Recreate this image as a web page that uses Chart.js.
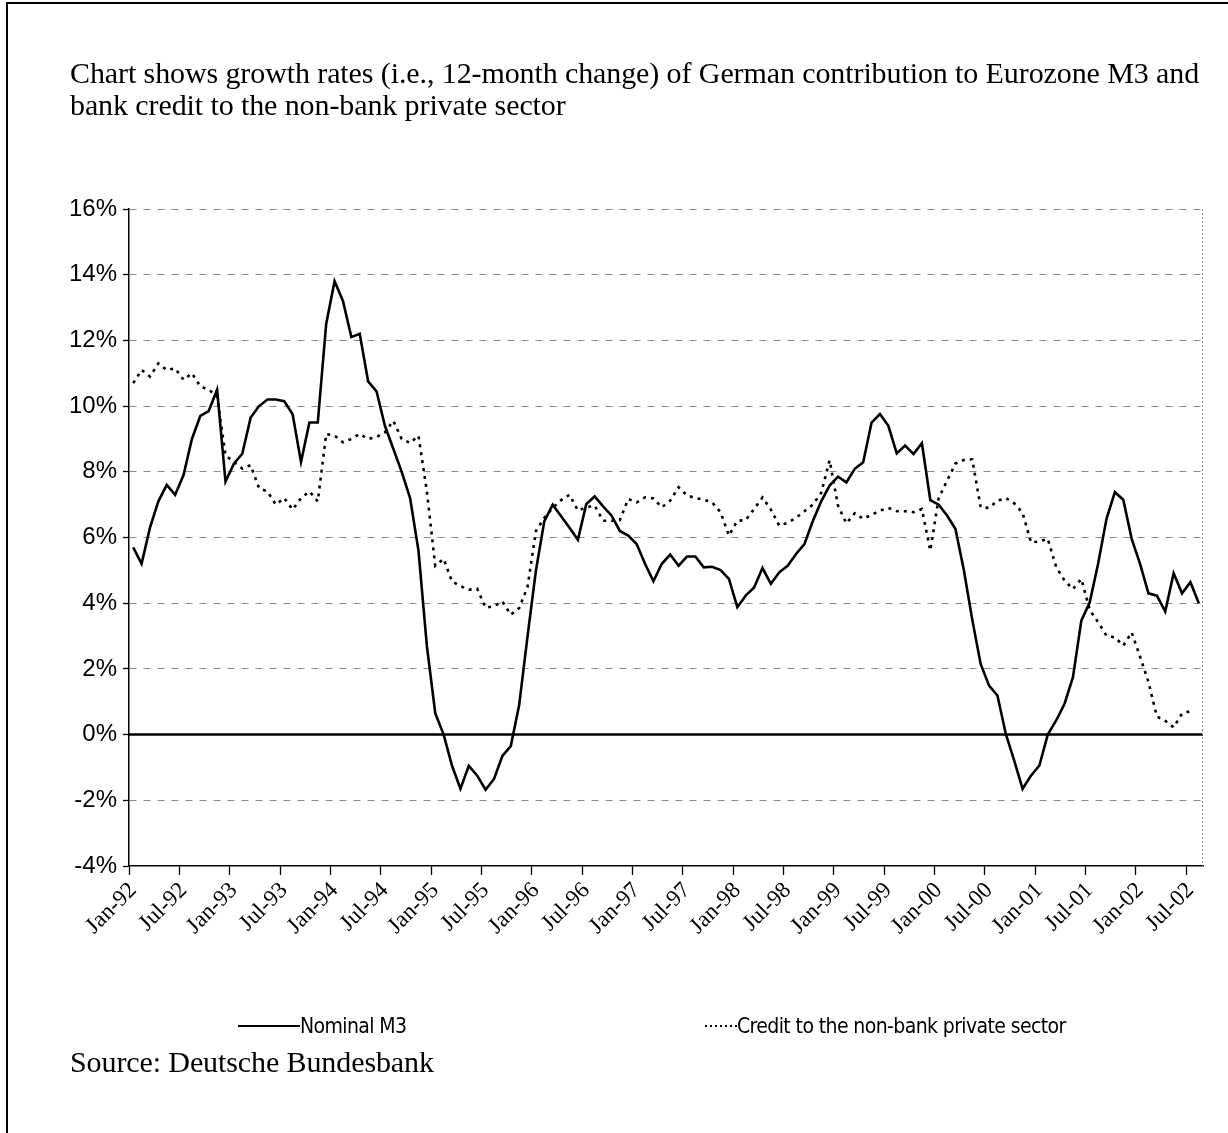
<!DOCTYPE html>
<html>
<head>
<meta charset="utf-8">
<title>German M3 and bank credit growth</title>
<script src="https://cdn.jsdelivr.net/npm/chart.js@4.4.1/dist/chart.umd.min.js"></script>
<style>
    html, body { margin: 0; padding: 0; background: #fff; }
    #page { position: relative; width: 1228px; height: 1133px; overflow: hidden; background: #fff; }
    #chartBox { position: absolute; left: 0; top: 0; width: 1228px; height: 1133px; }
    #frame { position: absolute; left: 6px; top: 2px; width: 1300px; height: 1200px;
             border-left: 2px solid #000; border-top: 2px solid #000; pointer-events: none; }
    .serif { font-family: 'Liberation Serif', 'Times New Roman', serif; color: #000; }
    #title { position: absolute; left: 70px; top: 57px; font-size: 30px; line-height: 32px;
             letter-spacing: -0.1px; white-space: nowrap; }
    #source { position: absolute; left: 70px; top: 1046px; font-size: 30px; line-height: 32px;
              letter-spacing: -0.1px; white-space: nowrap; }
    .legend-item { position: absolute; top: 1013px; height: 26px; display: flex; align-items: center;
                   font-family: 'Liberation Sans Narrow', 'DejaVu Sans Condensed', sans-serif;
                   font-size: 21px; letter-spacing: -0.6px; color: #000; white-space: nowrap; }
    .swatch-solid { width: 62px; height: 0; border-top: 2px solid #000; }
    .swatch-dotted { width: 32px; height: 2px;
                     background: repeating-linear-gradient(90deg, #000 0 2px, transparent 2px 5px); }
</style>
</head>
<body>
<div id="page">
    <div id="chartBox"><canvas id="growthChart"></canvas></div>
    <div id="frame"></div>
    <div id="title" class="serif">Chart shows growth rates (i.e., 12-month change) of German contribution to Eurozone M3 and<br>bank credit to the non-bank private sector</div>
    <div class="legend-item" style="left:238px;"><span class="swatch-solid"></span><span>Nominal M3</span></div>
    <div class="legend-item" style="left:705px;"><span class="swatch-dotted"></span><span>Credit to the non-bank private sector</span></div>
    <div id="source" class="serif">Source: Deutsche Bundesbank</div>
</div>

<script>
// --- DATA ---
const monthNames = ['Jan', 'Feb', 'Mar', 'Apr', 'May', 'Jun', 'Jul', 'Aug', 'Sep', 'Oct', 'Nov', 'Dec'];
const yearCodes = ['92', '93', '94', '95', '96', '97', '98', '99', '00', '01', '02'];
const lastMonthIndex = 7; // data stops in Aug-02

const tickLabels = ['Jan-92', 'Jul-92', 'Jan-93', 'Jul-93', 'Jan-94', 'Jul-94', 'Jan-95', 'Jul-95',
    'Jan-96', 'Jul-96', 'Jan-97', 'Jul-97', 'Jan-98', 'Jul-98', 'Jan-99', 'Jul-99',
    'Jan-00', 'Jul-00', 'Jan-01', 'Jul-01', 'Jan-02', 'Jul-02'];

const yTicks = [-4, -2, 0, 2, 4, 6, 8, 10, 12, 14, 16];

// Nominal M3, 12-month change in %, Jan-92 .. Aug-02
const nominalM3 = [
    5.7, 5.2, 6.3, 7.1, 7.6, 7.3, 7.9, 9.0, 9.7, 9.85, 10.5, 7.7,
    8.25, 8.55, 9.65, 10.0, 10.2, 10.2, 10.15, 9.75, 8.3, 9.5, 9.5, 12.5,
    13.8, 13.2, 12.1, 12.2, 10.75, 10.45, 9.4, 8.7, 8.0, 7.2, 5.6, 2.7,
    0.65, 0.0, -0.95, -1.65, -0.95, -1.25, -1.68, -1.35, -0.65, -0.35, 0.9, 3.0,
    5.0, 6.5, 7.0, 6.65, 6.3, 5.93, 7.02, 7.25, 6.95, 6.67, 6.2, 6.06,
    5.8, 5.2, 4.67, 5.2, 5.48, 5.14, 5.42, 5.42, 5.09, 5.11, 5.01, 4.74,
    3.88, 4.23, 4.48, 5.07, 4.59, 4.94, 5.14, 5.5, 5.8, 6.5, 7.1, 7.58,
    7.85, 7.68, 8.09, 8.29, 9.5, 9.76, 9.4, 8.56, 8.8, 8.54, 8.87, 7.14,
    7.0, 6.67, 6.26, 5.0, 3.5, 2.15, 1.49, 1.19, 0.02, -0.79, -1.65, -1.25,
    -0.94, 0.0, 0.43, 0.94, 1.75, 3.47, 4.03, 5.2, 6.57, 7.38, 7.15, 5.96,
    5.2, 4.3, 4.23, 3.75, 4.91, 4.3, 4.64, 4.0
];

// Credit to the non-bank private sector, 12-month change in %
const creditPrivate = [
    10.7, 11.1, 10.9, 11.3, 11.1, 11.15, 10.8, 11.0, 10.6, 10.5, 10.3, 8.5,
    8.3, 8.1, 8.2, 7.5, 7.4, 7.0, 7.2, 6.85, 7.2, 7.4, 7.1, 9.15,
    9.1, 8.9, 9.0, 9.15, 9.0, 9.06, 9.2, 9.55, 9.0, 8.88, 9.1, 7.4,
    5.14, 5.35, 4.66, 4.52, 4.41, 4.44, 3.86, 3.91, 4.05, 3.65, 3.85, 4.5,
    6.2, 6.6, 6.9, 7.14, 7.3, 6.82, 6.92, 6.97, 6.51, 6.51, 6.53, 7.17,
    7.07, 7.22, 7.19, 6.92, 7.12, 7.53, 7.28, 7.2, 7.15, 7.07, 6.77, 6.06,
    6.51, 6.53, 6.87, 7.22, 6.85, 6.36, 6.45, 6.6, 6.8, 7.0, 7.36, 8.35,
    6.97, 6.43, 6.74, 6.57, 6.69, 6.82, 6.9, 6.8, 6.8, 6.77, 6.87, 5.6,
    7.2, 7.73, 8.25, 8.36, 8.38, 6.92, 6.9, 7.12, 7.2, 7.04, 6.75, 5.85,
    5.88, 5.96, 5.1, 4.69, 4.43, 4.74, 3.8, 3.42, 3.01, 2.96, 2.71, 3.11,
    2.37, 1.6, 0.55, 0.42, 0.22, 0.64, 0.71, null
];

// month categories Jan-92 .. Aug-02
const categories = [];
yearCodes.forEach((yy, yi) => {
    monthNames.forEach((mm, mi) => {
        if (yi === yearCodes.length - 1 && mi > lastMonthIndex) return;
        categories.push(mm + '-' + yy);
    });
});

// --- PLOT GEOMETRY ---
const PLOT_LEFT = 129;
const PLOT_TOP = 209;
const PLOT_RIGHT = 1203;
const PLOT_BOTTOM = 866;
const X_AXIS_HEIGHT = 140;

// zero line and the dotted right edge of the plot
const plotExtras = {
    id: 'plotExtras',
    beforeDatasetsDraw(chart) {
        const { ctx, chartArea, scales } = chart;
        const y0 = scales.y.getPixelForValue(0);
        ctx.save();
        ctx.strokeStyle = '#000';
        ctx.lineWidth = 2.5;
        ctx.beginPath();
        ctx.moveTo(chartArea.left, y0);
        ctx.lineTo(chartArea.right, y0);
        ctx.stroke();

        ctx.strokeStyle = '#888';
        ctx.lineWidth = 1;
        ctx.setLineDash([2, 2]);
        ctx.beginPath();
        ctx.moveTo(chartArea.right - 0.5, chartArea.top);
        ctx.lineTo(chartArea.right - 0.5, chartArea.bottom);
        ctx.stroke();
        ctx.restore();
    }
};

function buildChart() {
    const ctx = document.getElementById('growthChart').getContext('2d');
    return new Chart(ctx, {
        type: 'line',
        data: {
            labels: categories,
            datasets: [
                {
                    label: 'Nominal M3',
                    data: nominalM3,
                    borderColor: '#000',
                    borderWidth: 2.6,
                    pointRadius: 0,
                    tension: 0,
                    fill: false
                },
                {
                    label: 'Credit to the non-bank private sector',
                    data: creditPrivate,
                    borderColor: '#000',
                    borderWidth: 2.6,
                    borderDash: [3, 5],
                    pointRadius: 0,
                    tension: 0,
                    fill: false,
                    spanGaps: false
                }
            ]
        },
        options: {
            responsive: true,
            maintainAspectRatio: false,
            animation: false,
            devicePixelRatio: 1,
            layout: {
                padding: {
                    left: 0,
                    top: PLOT_TOP,
                    right: 1228 - PLOT_RIGHT,
                    bottom: 1133 - PLOT_BOTTOM - X_AXIS_HEIGHT
                }
            },
            plugins: {
                legend: { display: false },
                title: { display: false },
                tooltip: { enabled: false }
            },
            scales: {
                x: {
                    type: 'category',
                    offset: true,
                    afterFit: scale => { scale.height = X_AXIS_HEIGHT; },
                    grid: {
                        offset: true,
                        drawOnChartArea: false,
                        drawTicks: true,
                        tickLength: 9,
                        tickWidth: 1.3,
                        color: c => (c.index % 6 === 0 && c.index < categories.length) ? '#000' : 'rgba(0,0,0,0)'
                    },
                    border: { display: true, color: '#000', width: 1.5 },
                    ticks: {
                        autoSkip: false,
                        maxRotation: 45,
                        minRotation: 45,
                        padding: 2,
                        color: '#000',
                        font: { family: "'Liberation Serif', 'Times New Roman', serif", size: 23 },
                        callback: (value, index) => tickLabels.includes(categories[index]) ? categories[index] : ''
                    }
                },
                y: {
                    min: yTicks[0],
                    max: yTicks[yTicks.length - 1],
                    afterFit: scale => { scale.width = PLOT_LEFT; },
                    afterBuildTicks: scale => { scale.ticks = yTicks.map(v => ({ value: v })); },
                    grid: {
                        drawTicks: true,
                        tickLength: 6,
                        tickColor: '#000',
                        tickWidth: 1.3,
                        lineWidth: 1,
                        color: c => (c.tick && (c.tick.value === 0 || c.tick.value === -4)) ? 'rgba(0,0,0,0)' : '#8a8a8a'
                    },
                    border: { display: true, color: '#000', width: 1.5, dash: [7, 7] },
                    ticks: {
                        padding: 6,
                        color: '#000',
                        font: { family: "'Liberation Sans', Arial, sans-serif", size: 24 },
                        callback: value => value + '%'
                    }
                }
            }
        },
        plugins: [plotExtras]
    });
}

document.addEventListener('DOMContentLoaded', () => {
    buildChart();
});
</script>
</body>
</html>
